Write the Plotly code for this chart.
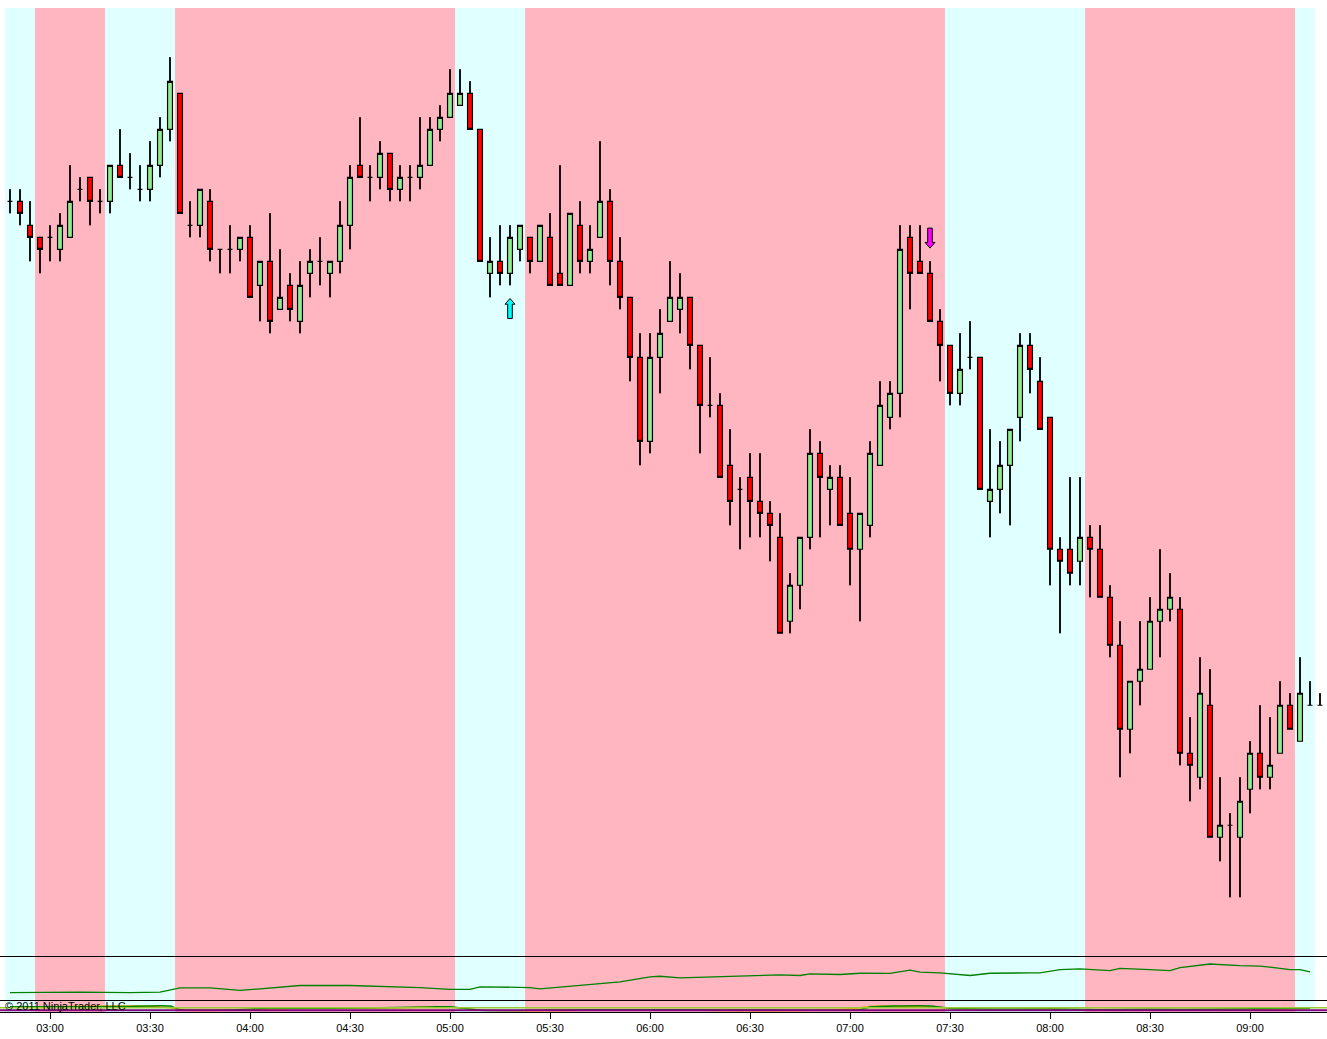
import pandas as pd
import plotly.graph_objects as go
from plotly.subplots import make_subplots

DAY = '2011-01-20 '

# 3 minute bars, first one at 02:48
bar_times = pd.date_range(DAY + '02:48', periods=132, freq='3min')

# prices in ticks (0.25) relative to 1290.00
BASE = 1290.0
TICK = 0.25

open_t = [0, 0, -2, -3, -3, -4, -3, 1, 2, 0,
          0, 3, 2, 1, 1, 3, 6, 9, -2, -2,
          0, -4, -4, -4, -3, -7, -5, -9, -7, -10,
          -6, -5, -6, -5, -2, 3, 2, 2, 4, 1,
          2, 2, 3, 6, 7, 8, 9, 6, -6, -5,
          -6, -4, -3, -5, -3, -6, -7, -2, -5, -3,
          0, -5, -8, -13, -20, -13, -10, -9, -8, -12,
          -17, -17, -22, -24, -23, -25, -26, -28, -35, -32,
          -28, -21, -24, -23, -26, -29, -27, -22, -18, -16,
          -3, -5, -6, -10, -12, -16, -13, -13, -25, -24,
          -22, -18, -12, -15, -18, -29, -29, -30, -28, -29,
          -33, -37, -44, -40, -39, -35, -34, -34, -46, -48,
          -42, -53, -52, -53, -49, -46, -48, -46, -42, -45,
          -42, -42]
high_t = [1, 1, 0, -3, -2, -1, 3, 2, 2, 1,
          3, 6, 4, 3, 5, 7, 12, 9, 0, 1,
          1, -4, -2, -3, -2, -5, -1, -4, -6, -5,
          -4, -3, -5, 0, 3, 7, 3, 5, 4, 3,
          3, 7, 7, 8, 11, 11, 10, 6, -3, -2,
          -2, -2, -3, -2, -1, 3, -1, 0, -2, 5,
          1, -3, -8, -11, -11, -9, -5, -6, -8, -12,
          -13, -16, -19, -23, -21, -21, -25, -26, -31, -28,
          -19, -20, -22, -22, -23, -26, -20, -15, -15, -2,
          -2, -2, -5, -9, -12, -11, -10, -13, -19, -20,
          -19, -11, -11, -13, -18, -28, -23, -23, -27, -27,
          -32, -35, -40, -35, -33, -29, -31, -33, -43, -38,
          -39, -48, -51, -48, -45, -42, -43, -40, -41, -38,
          -40, -41]
low_t = [-1, -2, -5, -6, -5, -5, -3, 0, -2, -1,
         -1, 2, 1, 0, 0, 2, 5, -1, -3, -3,
         -5, -6, -6, -5, -8, -10, -11, -9, -10, -11,
         -8, -7, -8, -6, -4, 2, 0, 1, 0, 0,
         0, 1, 3, 5, 7, 8, 6, -5, -8, -7,
         -7, -5, -6, -5, -7, -7, -7, -6, -6, -3,
         -7, -9, -15, -22, -21, -16, -10, -11, -14, -21,
         -18, -23, -27, -29, -28, -28, -30, -36, -36, -34,
         -29, -28, -27, -27, -32, -35, -28, -22, -19, -18,
         -9, -6, -10, -15, -17, -17, -14, -24, -28, -26,
         -27, -20, -16, -19, -32, -36, -32, -32, -33, -33,
         -38, -48, -46, -42, -39, -38, -35, -47, -50, -49,
         -53, -55, -58, -58, -51, -49, -49, -46, -44, -45,
         -42, -42]
close_t = [0, -1, -3, -4, -3, -2, 0, 1, 0, 0,
           3, 2, 2, 1, 3, 6, 10, -1, -2, 1,
           -4, -4, -4, -3, -8, -5, -10, -8, -9, -7,
           -5, -5, -5, -2, 2, 2, 2, 4, 1, 2,
           2, 3, 6, 7, 9, 9, 6, -5, -5, -6,
           -3, -2, -5, -2, -7, -7, -1, -5, -4, 0,
           -5, -8, -13, -20, -13, -11, -8, -8, -12, -17,
           -17, -23, -25, -24, -25, -26, -27, -36, -32, -28,
           -21, -23, -23, -27, -29, -26, -21, -17, -16, -4,
           -6, -6, -10, -12, -16, -14, -13, -24, -24, -22,
           -19, -12, -14, -19, -29, -30, -31, -28, -29, -33,
           -37, -44, -40, -39, -35, -34, -33, -46, -47, -41,
           -53, -52, -52, -50, -46, -48, -47, -42, -44, -41,
           -42, -42]

opens = [BASE + TICK * v for v in open_t]
highs = [BASE + TICK * v for v in high_t]
lows = [BASE + TICK * v for v in low_t]
closes = [BASE + TICK * v for v in close_t]

# background sessions
band_start = ['02:46:30', '02:55:30', '03:16:30', '03:37:30', '05:01:30',
              '05:22:30', '07:28:30', '08:10:30', '09:13:30']
band_end = ['02:55:30', '03:16:30', '03:37:30', '05:01:30', '05:22:30',
            '07:28:30', '08:10:30', '09:13:30', '09:19:30']
band_color = ['#E0FFFF', '#FFB6C1', '#E0FFFF', '#FFB6C1', '#E0FFFF',
              '#FFB6C1', '#E0FFFF', '#FFB6C1', '#E0FFFF']

# signal arrows (time, tip price in ticks)
up_sig_time = ['05:18']
up_sig_tick = [-8.1]
dn_sig_time = ['07:24']
dn_sig_tick = [-3.9]

# middle panel indicator
p2_time = ['02:48', '03:09', '03:24', '03:33', '03:39', '03:48', '03:57', '04:15', '04:30',
           '04:51', '05:00', '05:06', '05:09', '05:24', '05:27', '05:33', '05:42', '05:51',
           '06:00', '06:03', '06:09', '06:21', '06:36', '06:39', '06:45', '06:48', '06:57',
           '07:03', '07:12', '07:18', '07:21', '07:27', '07:36', '07:42', '07:54', '07:57',
           '08:03', '08:09', '08:18', '08:21', '08:30', '08:36', '08:39', '08:48', '08:57',
           '09:03', '09:12', '09:15', '09:18']
p2_val = [6.8, 7.4, 6.8, 7.4, 11.3, 11.2, 8.9, 13.5, 13.5,
          11.6, 9.9, 9.9, 12.3, 11.6, 10.4, 11.9, 14.8, 16.9,
          21.5, 22.1, 20.6, 21.5, 22.4, 23.3, 22.8, 24.3, 23.7,
          24.9, 24.7, 27.7, 25.9, 25.2, 22.8, 24.9, 25.2, 25.2,
          28.3, 28.9, 27.3, 29.5, 28.3, 27.3, 30.1, 33.5, 32.0,
          31.6, 28.3, 28.3, 26.1]

# bottom panel indicator
p3g_time = ['02:48', '03:03', '03:21', '03:36', '03:39', '03:54', '04:06', '04:24', '04:54',
            '05:00', '05:09', '05:30', '06:00', '06:30', '07:03', '07:06', '07:15', '07:24',
            '07:30', '07:45', '08:00', '08:15', '08:30', '08:48', '09:15', '09:18']
p3g_val = [43, 43, 45, 50, 19, 17, 31, 31, 42, 43, 14, 17, 19, 17, 19, 42, 50, 50,
           31, 25, 25, 19, 22, 22, 31, 31]
p3o_time = ['02:48', '03:24', '03:36', '03:42', '03:57', '04:15', '04:45', '05:00', '05:09',
            '05:30', '05:51', '06:15', '06:36', '07:00', '07:06', '07:21', '07:33', '07:45',
            '08:00', '08:15', '08:33', '08:54', '09:12', '09:18']
p3o_val = [40, 50, 36, 14, 19, 31, 36, 42, 17, 10, 19, 14, 10, 25, 45, 45, 25, 14,
           25, 14, 17, 14, 25, 28]
p3_upper = 36
p3_lower = 14

FONT = 'Liberation Sans, Arial, sans-serif'

fig = make_subplots(rows=3, cols=1, shared_xaxes=True, vertical_spacing=0,
                    row_heights=[949, 43, 12])

fig.add_trace(go.Candlestick(
    x=bar_times, open=opens, high=highs, low=lows, close=closes,
    increasing=dict(fillcolor='#90EE90', line=dict(color='black', width=1.2)),
    decreasing=dict(fillcolor='#FF0000', line=dict(color='black', width=1.2)),
    whiskerwidth=0, showlegend=False, hoverinfo='skip'), row=1, col=1)

# heavier black wicks, only the parts outside the bodies (scatter sits above boxes)
wick_x, wick_y = [], []
for t, o, h, l, c in zip(bar_times, opens, highs, lows, closes):
    top, bot = max(o, c), min(o, c)
    if h > top:
        wick_x += [t, t, None]
        wick_y += [h, top, None]
    if l < bot:
        wick_x += [t, t, None]
        wick_y += [bot, l, None]
fig.add_trace(go.Scatter(x=wick_x, y=wick_y, mode='lines',
                         line=dict(color='black', width=1.6),
                         showlegend=False, hoverinfo='skip'), row=1, col=1)


def arrow(t, tick, up, color):
    # block arrow drawn in px offsets around the tip
    tip_x = pd.Timestamp(DAY + t)
    tip_y = BASE + TICK * tick
    pts = [(0, 0), (5, 5.7), (2.3, 5.7), (2.3, 20), (-2.3, 20), (-2.3, 5.7), (-5, 5.7), (0, 0)]
    xs, ys = [], []
    for dx, dy in pts:
        xs.append(tip_x + pd.Timedelta(seconds=dx * 18))
        ys.append(tip_y - dy / 48.0 if up else tip_y + dy / 48.0)
    return go.Scatter(x=xs, y=ys, mode='lines', fill='toself', fillcolor=color,
                      line=dict(color='black', width=1), showlegend=False, hoverinfo='skip')


for t, k in zip(up_sig_time, up_sig_tick):
    fig.add_trace(arrow(t, k, True, '#00FFFF'), row=1, col=1)
for t, k in zip(dn_sig_time, dn_sig_tick):
    fig.add_trace(arrow(t, k, False, '#FF00FF'), row=1, col=1)

fig.add_trace(go.Scatter(x=[DAY + t for t in p2_time], y=p2_val, mode='lines',
                         line=dict(color='#008000', width=1.3),
                         showlegend=False, hoverinfo='skip'), row=2, col=1)

fig.add_trace(go.Scatter(x=[DAY + t for t in p3o_time], y=p3o_val, mode='lines',
                         line=dict(color='#FFA500', width=1.5, shape='spline', smoothing=0.6),
                         showlegend=False, hoverinfo='skip'), row=3, col=1)
fig.add_trace(go.Scatter(x=[DAY + t for t in p3g_time], y=p3g_val, mode='lines',
                         line=dict(color='#008000', width=1.5, shape='spline', smoothing=0.6),
                         showlegend=False, hoverinfo='skip'), row=3, col=1)

# session bands through all panels
for s, e, c in zip(band_start, band_end, band_color):
    fig.add_shape(type='rect', xref='x', yref='paper', x0=DAY + s, x1=DAY + e,
                  y0=0, y1=1, fillcolor=c, line_width=0, layer='below')

fig.add_shape(type='line', xref='paper', yref='y3', x0=0, x1=1, y0=p3_upper, y1=p3_upper,
              line=dict(color='#9ACD32', width=1.5))
fig.add_shape(type='line', xref='paper', yref='y3', x0=0, x1=1, y0=p3_lower, y1=p3_lower,
              line=dict(color='#800080', width=2))

fig.add_annotation(text='© 2011 NinjaTrader, LLC', xref='paper', yref='paper',
                   x=0.002, y=0.006, xanchor='left', yanchor='middle', showarrow=False,
                   font=dict(family=FONT, size=11, color='black'))

x_range = [DAY + '02:45:00', DAY + '09:23:06']
for n in (1, 2, 3):
    fig.update_xaxes(range=x_range, showgrid=False, zeroline=False,
                     rangeslider_visible=False, row=n, col=1)
fig.update_xaxes(showticklabels=False, row=1, col=1)
fig.update_xaxes(showticklabels=False, showline=True, mirror=True, linecolor='black',
                 linewidth=1, row=2, col=1)
fig.update_xaxes(tickformat='%H:%M', dtick=30 * 60 * 1000, tick0=DAY + '03:00',
                 ticks='outside', ticklen=6, tickcolor='black', showline=True,
                 linecolor='black', linewidth=1,
                 tickfont=dict(family=FONT, size=11, color='black'), row=3, col=1)

fig.update_yaxes(showticklabels=False, showgrid=False, zeroline=False, ticks='')
fig.update_yaxes(range=[BASE + TICK * -62.98, BASE + TICK * 16.11], row=1, col=1)
fig.update_yaxes(range=[0, 40], row=2, col=1)
fig.update_yaxes(range=[0, 100], row=3, col=1)

fig.update_layout(width=1327, height=1039, margin=dict(l=0, r=0, t=8, b=27),
                  plot_bgcolor='white', paper_bgcolor='white', showlegend=False)

# page body has a default 8px margin; drop it so the figure sits at the corner
fig.write_html("out.html", config={'displayModeBar': False},
               post_script="document.body.style.margin='0px';")
